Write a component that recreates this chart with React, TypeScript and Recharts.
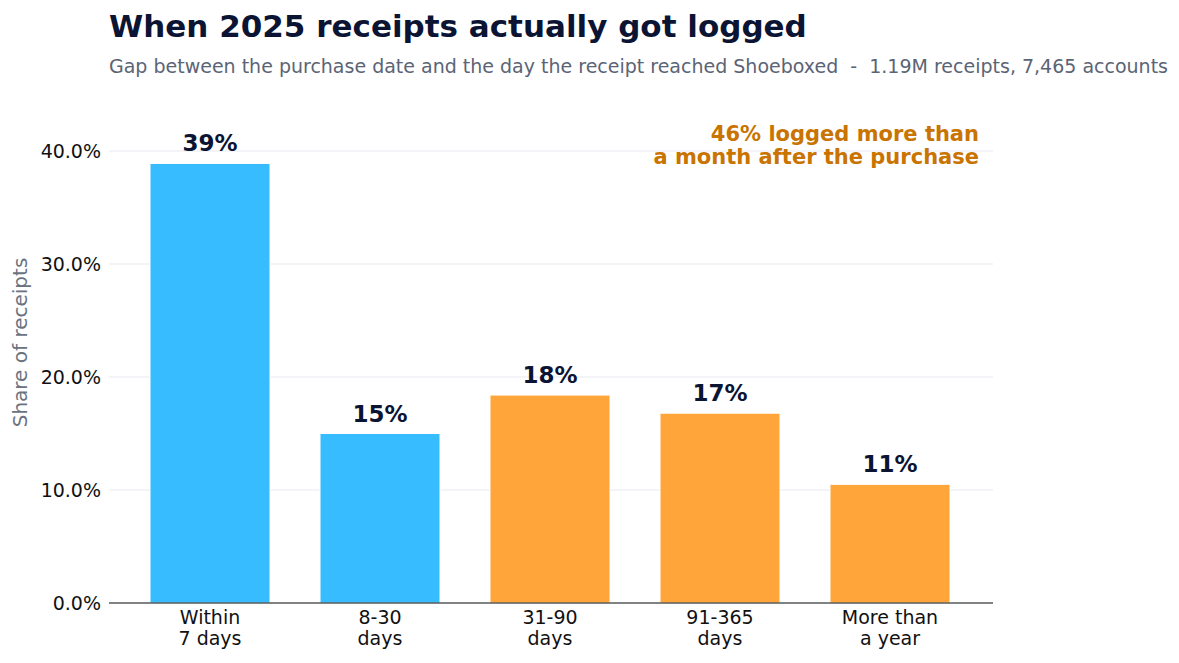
import { Bar, BarChart, CartesianGrid, Cell, LabelList, XAxis, YAxis } from 'recharts'

const categories = ['Within\n7 days', '8-30\ndays', '31-90\ndays', '91-365\ndays', 'More than\na year']
const shares = [38.9, 15.0, 18.4, 16.8, 10.5]
const groups = ['recent', 'recent', 'late', 'late', 'late']
const yTicks = [0, 10, 20, 30, 40]

const FONT = '"DejaVu Sans", sans-serif'
const NAVY = '#0b1433'
const COLORS: Record<string, string> = {
  recent: '#36bcff',
  late: '#ffa539',
}

const data = categories.map((category, i) => ({
  category,
  share: shares[i],
  group: groups[i],
}))

const lateShare = shares.reduce((sum, v, i) => (groups[i] === 'late' ? sum + v : sum), 0)

function CategoryTick({ x, y, payload }: any) {
  const lines = String(payload.value).split('\n')
  return (
    <text x={x} y={y} textAnchor="middle" fill="#111" fontSize={19} fontFamily={FONT}>
      {lines.map((line, i) => (
        <tspan key={i} x={x} dy={21}>
          {line}
        </tspan>
      ))}
    </text>
  )
}

function ShareLabel({ x, y, width, value }: any) {
  return (
    <text
      x={x + width / 2}
      y={y - 12}
      textAnchor="middle"
      fill={NAVY}
      fontSize={23}
      fontWeight="bold"
      fontFamily={FONT}
    >
      {`${Number(value).toFixed(0)}%`}
    </text>
  )
}

export default function App() {
  return (
    <div style={{ position: 'absolute', left: 0, top: 0, width: 1179, height: 663, background: '#fff' }}>
      <BarChart
        width={1179}
        height={663}
        data={data}
        margin={{ top: 151, right: 186, bottom: 30, left: 39 }}
      >
        <CartesianGrid vertical={false} stroke="#e6e9ef" strokeWidth={1} />
        <XAxis
          dataKey="category"
          interval={0}
          height={30}
          padding={{ left: 16, right: 18 }}
          axisLine={{ stroke: '#111', strokeWidth: 1.2 }}
          tickLine={false}
          tickSize={0}
          tickMargin={0}
          tick={<CategoryTick />}
        />
        <YAxis
          width={70}
          domain={[0, 40]}
          ticks={yTicks}
          allowDataOverflow
          axisLine={false}
          tickLine={false}
          tickSize={0}
          tickMargin={8}
          tickFormatter={(v: number) => `${v.toFixed(1)}%`}
          tick={{ fontSize: 19, fill: '#111', fontFamily: FONT }}
        />
        <Bar dataKey="share" barSize={120} stroke="#fff" strokeWidth={1} isAnimationActive={false}>
          {data.map((d, i) => (
            <Cell key={i} fill={COLORS[d.group]} />
          ))}
          <LabelList dataKey="share" content={<ShareLabel />} />
        </Bar>
      </BarChart>
      <svg
        width={1179}
        height={663}
        style={{ position: 'absolute', left: 0, top: 0, pointerEvents: 'none' }}
        fontFamily={FONT}
      >
        <text x={109} y={37} fontSize={31} fontWeight="bold" fill={NAVY}>
          When 2025 receipts actually got logged
        </text>
        <text x={109} y={73} fontSize={19} fill="#5b6475" style={{ whiteSpace: 'pre' }}>
          {'Gap between the purchase date and the day the receipt reached Shoeboxed  -  1.19M receipts, 7,465 accounts'}
        </text>
        <text
          x={27}
          y={342.5}
          transform="rotate(-90 27 342.5)"
          textAnchor="middle"
          fontSize={20}
          fill="#6b7280"
        >
          Share of receipts
        </text>
        <text x={979} y={141} textAnchor="end" fontSize={21} fontWeight="bold" fill="#c97400">
          <tspan x={979}>{`${lateShare.toFixed(0)}% logged more than`}</tspan>
          <tspan x={979} dy={23}>a month after the purchase</tspan>
        </text>
      </svg>
    </div>
  )
}
